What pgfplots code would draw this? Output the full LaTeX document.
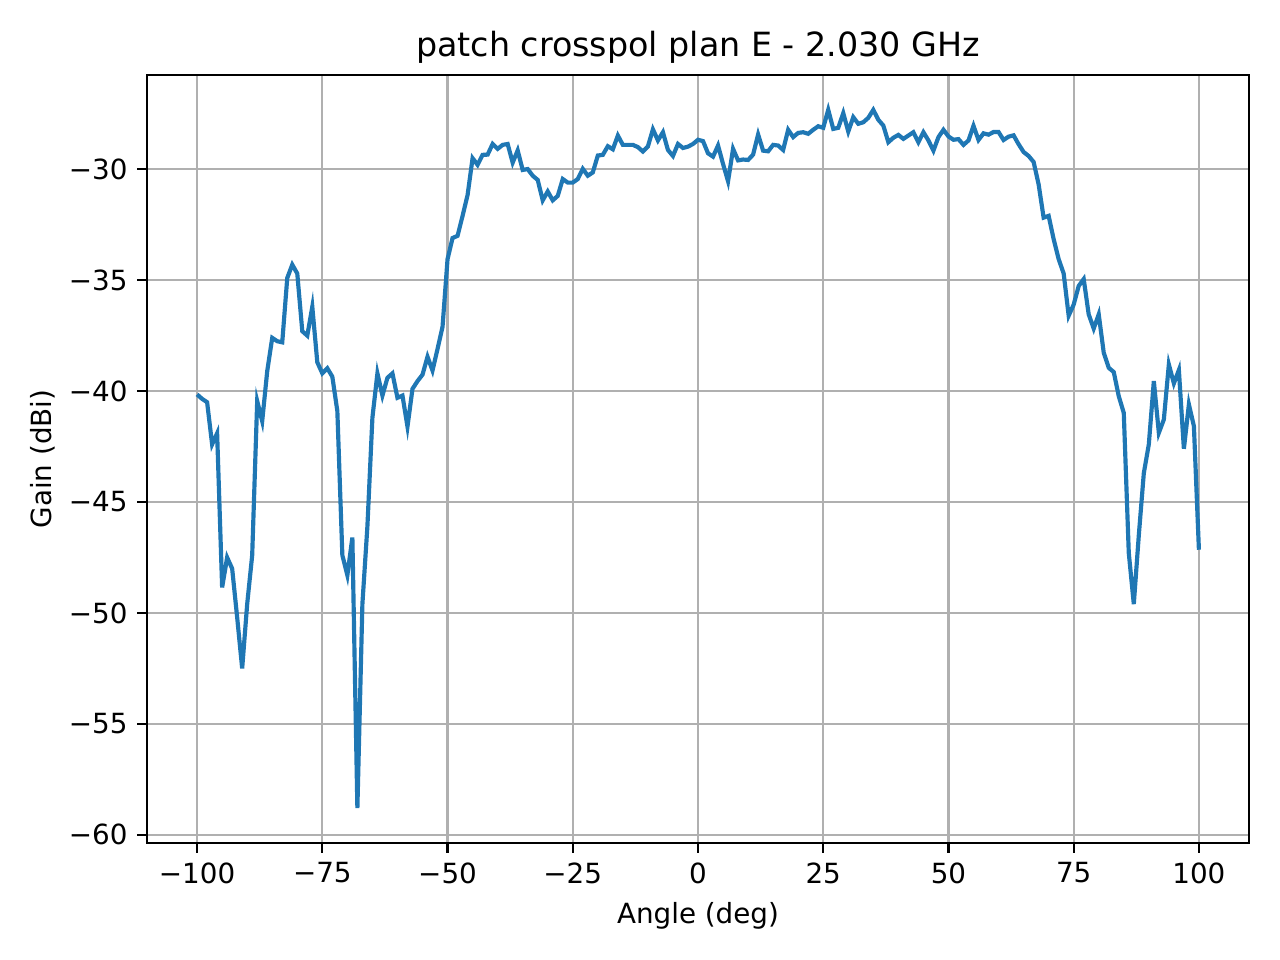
\documentclass[border=0pt]{standalone}
\usepackage{fontspec}
\setmainfont{DejaVu Sans}
\usepackage{pgfplots}
\usepackage{pgfplotstable}
\pgfplotsset{compat=1.18}
\definecolor{mplblue}{HTML}{1F77B4}
\definecolor{mplgrid}{HTML}{B0B0B0}

% crosspol gain, plane E, 2.030 GHz
\pgfplotstableread{
angle gain
-100 -40.15
-99 -40.35
-98 -40.5
-97 -42.4
-96 -41.9
-95 -48.85
-94 -47.5
-93 -48.0
-92 -50.2
-91 -52.5
-90 -49.6
-89 -47.4
-88 -40.45
-87 -41.35
-86 -39.1
-85 -37.6
-84 -37.75
-83 -37.8
-82 -34.9
-81 -34.3
-80 -34.7
-79 -37.3
-78 -37.5
-77 -36.2
-76 -38.7
-75 -39.2
-74 -38.97
-73 -39.35
-72 -40.9
-71 -47.4
-70 -48.3
-69 -46.6
-68 -58.8
-67 -49.6
-66 -46.1
-65 -41.2
-64 -39.2
-63 -40.2
-62 -39.4
-61 -39.2
-60 -40.3
-59 -40.2
-58 -41.6
-57 -39.9
-56 -39.55
-55 -39.26
-54 -38.45
-53 -39.07
-52 -38.1
-51 -37.1
-50 -34.05
-49 -33.1
-48 -33.0
-47 -32.1
-46 -31.16
-45 -29.5
-44 -29.8
-43 -29.35
-42 -29.34
-41 -28.86
-40 -29.08
-39 -28.9
-38 -28.86
-37 -29.7
-36 -29.15
-35 -30.03
-34 -29.99
-33 -30.29
-32 -30.48
-31 -31.4
-30 -31.0
-29 -31.4
-28 -31.2
-27 -30.44
-26 -30.6
-25 -30.6
-24 -30.44
-23 -29.98
-22 -30.29
-21 -30.14
-20 -29.38
-19 -29.35
-18 -28.96
-17 -29.1
-16 -28.48
-15 -28.9
-14 -28.9
-13 -28.9
-12 -29.0
-11 -29.2
-10 -28.97
-9 -28.2
-8 -28.7
-7 -28.33
-6 -29.13
-5 -29.4
-4 -28.86
-3 -29.04
-2 -28.98
-1 -28.86
0 -28.67
1 -28.73
2 -29.28
3 -29.43
4 -28.93
5 -29.76
6 -30.54
7 -29.08
8 -29.6
9 -29.56
10 -29.58
11 -29.34
12 -28.43
13 -29.16
14 -29.19
15 -28.9
16 -28.93
17 -29.13
18 -28.22
19 -28.55
20 -28.36
21 -28.33
22 -28.4
23 -28.22
24 -28.06
25 -28.13
26 -27.32
27 -28.18
28 -28.13
29 -27.47
30 -28.3
31 -27.65
32 -27.95
33 -27.88
34 -27.68
35 -27.32
36 -27.77
37 -28.03
38 -28.78
39 -28.58
40 -28.45
41 -28.63
42 -28.48
43 -28.33
44 -28.78
45 -28.33
46 -28.7
47 -29.16
48 -28.55
49 -28.22
50 -28.52
51 -28.67
52 -28.64
53 -28.9
54 -28.7
55 -28.04
56 -28.68
57 -28.38
58 -28.44
59 -28.32
60 -28.32
61 -28.68
62 -28.53
63 -28.47
64 -28.87
65 -29.22
66 -29.4
67 -29.67
68 -30.68
69 -32.18
70 -32.1
71 -33.15
72 -34.05
73 -34.7
74 -36.6
75 -36.1
76 -35.26
77 -34.95
78 -36.54
79 -37.18
80 -36.54
81 -38.27
82 -38.95
83 -39.14
84 -40.23
85 -40.98
86 -47.3
87 -49.6
88 -46.5
89 -43.7
90 -42.4
91 -39.55
92 -41.88
93 -41.28
94 -38.8
95 -39.65
96 -39.05
97 -42.6
98 -40.6
99 -41.58
100 -47.15
}\crosspol

\begin{document}
\begin{tikzpicture}
\path[use as bounding box] (0,0) rectangle (460.8pt,345.6pt);
\begin{axis}[
    at={(52.92pt,42.12pt)}, anchor=south west,
    scale only axis, width=396.72pt, height=276.48pt,
    xmin=-110, xmax=110,
    ymin=-60.37, ymax=-25.75,
    xtick={-100,-75,-50,-25,0,25,50,75,100},
    xticklabels={−100,−75,−50,−25,0,25,50,75,100},
    ytick={-60,-55,-50,-45,-40,-35,-30},
    yticklabels={−60,−55,−50,−45,−40,−35,−30},
    tick pos=left,
    tick align=outside,
    major tick length=3.5pt,
    every tick/.style={black, line width=0.8pt},
    axis line style={line width=0.8pt},
    tick label style={font=\fontsize{10}{12}\selectfont},
    grid=major,
    major grid style={mplgrid, line width=0.8pt},
    title={patch crosspol plan E - 2.030 GHz},
    title style={anchor=base, yshift=0.5pt, font=\fontsize{12}{14.4}\selectfont},
    xlabel={Angle (deg)},
    ylabel={Gain (dBi)},
    label style={font=\fontsize{10}{12}\selectfont},
    ylabel style={at={(axis description cs:-0.0865,0.5)}, anchor=base},
]
\addplot[mplblue, line width=1.5pt, no markers] table[x=angle, y=gain] {\crosspol};
\end{axis}
\end{tikzpicture}
\end{document}
